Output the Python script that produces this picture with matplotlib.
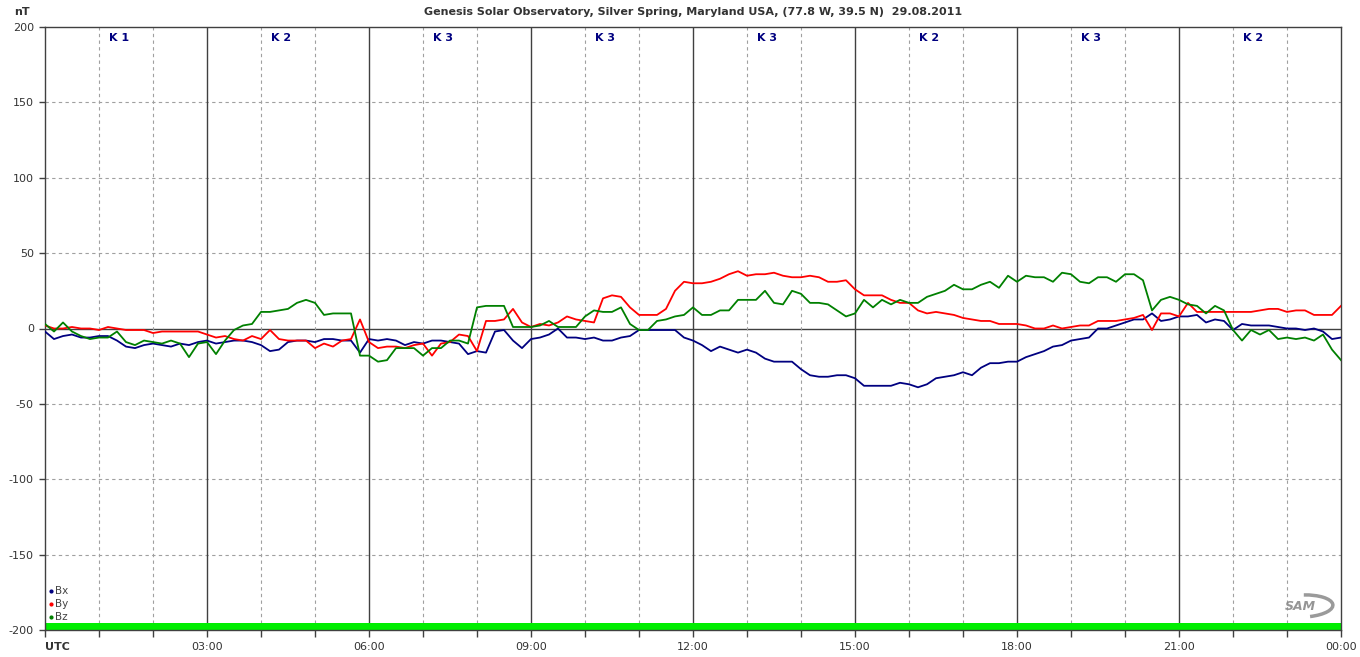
import numpy as np
import matplotlib
matplotlib.use("Agg")
import matplotlib.pyplot as plt
from matplotlib.patches import Arc

# ---- data (10-minute samples, 00:00 .. 24:00 UTC) ----
bx = [-2, -7, -5, -4, -6, -6, -5, -5, -8, -12, -13, -11, -10, -11, -12, -10, -11, -9, -8, -10, -9, -8, -8, -9, -11, -15, -14, -9, -8,
      -8, -9, -7, -7, -8, -8, -16, -7, -8, -7, -8, -11, -9, -10, -8, -8, -9, -10, -17, -15, -16, -2, -1, -8, -13, -7, -6, -4, 0,
      -6, -6, -7, -6, -8, -8, -6, -5, -1, -1, -1, -1, -1, -6, -8, -11, -15, -12, -14, -16, -14, -16, -20, -22, -22, -22, -27, -31, -32,
      -32, -31, -31, -33, -38, -38, -38, -38, -36, -37, -39, -37, -33, -32, -31, -29, -31, -26, -23, -23, -22, -22, -19, -17, -15, -12, -11, -8, -7,
      -6, 0, 0, 2, 4, 6, 6, 10, 5, 6, 8, 8, 9, 4, 6, 5, -1, 3, 2, 2, 2, 1, 0, 0, -1, 0, -2, -7, -6]
by = [2, 0, 0, 1, 0, 0, -1, 1, 0, -1, -1, -1, -3, -2, -2, -2, -2, -2, -4, -6, -5, -7, -8, -5, -7, -1, -7, -8, -8,
      -8, -13, -10, -12, -8, -7, 6, -9, -13, -12, -12, -13, -11, -10, -18, -10, -9, -4, -5, -15, 5, 5, 6, 13, 4, 1, 3, 2, 4,
      8, 6, 5, 4, 20, 22, 21, 14, 9, 9, 9, 13, 25, 31, 30, 30, 31, 33, 36, 38, 35, 36, 36, 37, 35, 34, 34, 35, 34,
      31, 31, 32, 26, 22, 22, 22, 19, 17, 17, 12, 10, 11, 10, 9, 7, 6, 5, 5, 3, 3, 3, 2, 0, 0, 2, 0, 1, 2,
      2, 5, 5, 5, 6, 7, 9, -1, 10, 10, 8, 17, 11, 11, 11, 11, 11, 11, 11, 12, 13, 13, 11, 12, 12, 9, 9, 9, 15]
bz = [3, -2, 4, -2, -5, -7, -6, -6, -2, -9, -11, -8, -9, -10, -8, -10, -19, -10, -9, -17, -8, -1, 2, 3, 11, 11, 12, 13, 17,
      19, 17, 9, 10, 10, 10, -18, -18, -22, -21, -13, -13, -13, -18, -13, -13, -8, -8, -10, 14, 15, 15, 15, 1, 1, 1, 2, 5, 1,
      1, 1, 8, 12, 11, 11, 14, 3, -1, -1, 5, 6, 8, 9, 14, 9, 9, 12, 12, 19, 19, 19, 25, 17, 16, 25, 23, 17, 17,
      16, 12, 8, 10, 19, 14, 19, 16, 19, 17, 17, 21, 23, 25, 29, 26, 26, 29, 31, 27, 35, 31, 35, 34, 34, 31, 37, 36, 31,
      30, 34, 34, 31, 36, 36, 32, 12, 19, 21, 19, 16, 15, 10, 15, 12, -1, -8, -1, -4, -1, -7, -6, -7, -6, -8, -4, -14, -21]
k_labels = ["K 1", "K 2", "K 3", "K 3", "K 3", "K 2", "K 3", "K 2"]
x_ticklabels = ["UTC", "03:00", "06:00", "09:00", "12:00", "15:00", "18:00", "21:00", "00:00"]
y_ticks = [200, 150, 100, 50, 0, -50, -100, -150, -200]
sample_step_hours = 1 / 6

t = np.arange(len(bx)) * sample_step_hours

W, H = 1360, 657
fig = plt.figure(figsize=(W / 100, H / 100), dpi=100)
fig.patch.set_facecolor("white")
ax = fig.add_axes([45 / W, (H - 630) / H, (1341 - 45) / W, 603 / H])
ax.set_xlim(0, 24)
ax.set_ylim(-200, 200)

dark = "#404040"
gridc = "#a0a0a0"
# grid
for y in y_ticks:
    if y in (200, -200):
        continue
    if y == 0:
        ax.axhline(0, color=dark, lw=1.0, zorder=1)
    else:
        ax.axhline(y, color=gridc, lw=0.8, ls=(0, (3, 3)), zorder=1)
for h in range(1, 24):
    if h % 3 == 0:
        ax.axvline(h, color=dark, lw=1.0, zorder=1)
    else:
        ax.axvline(h, color=gridc, lw=0.8, ls=(0, (3, 3)), zorder=1)

# green bar
ax.axhspan(-200, -195.3, color="#00ee00", lw=0, zorder=2)

# series
ax.plot(t, bx, color="#000080", lw=1.3, zorder=3)
ax.plot(t, by, color="#ff0000", lw=1.3, zorder=4)
ax.plot(t, bz, color="#008000", lw=1.3, zorder=5)

# spines
for s in ["left", "top", "right", "bottom"]:
    ax.spines[s].set_color(dark)
    ax.spines[s].set_linewidth(1.0)

ax.set_yticks(y_ticks)
ax.set_yticklabels([str(v) for v in y_ticks], fontsize=8, color="#333333")
ax.set_xticks(np.arange(0, 24.01, 3))
ax.set_xticklabels(x_ticklabels, fontsize=8, color="#333333")
ax.set_xticks([h for h in range(1, 24) if h % 3], minor=True)
ax.tick_params(axis="y", length=4, width=1, color=dark, pad=4)
ax.tick_params(axis="x", which="both", length=5, width=1, color=dark, pad=4)
for lbl in ax.get_xticklabels():
    if lbl.get_text() == "UTC":
        lbl.set_fontweight("bold")
        lbl.set_horizontalalignment("left")

# K labels
for i, kl in enumerate(k_labels):
    ax.text(1.37 + 3 * i, 193, kl, ha="center", va="center", fontsize=8,
            fontweight="bold", color="#000080", zorder=6)

# title & unit
fig.text(693 / W, 1 - 12 / H, "Genesis Solar Observatory, Silver Spring, Maryland USA, (77.8 W, 39.5 N)  29.08.2011",
         ha="center", va="center", fontsize=8, fontweight="bold", color="#333333")
fig.text(22 / W, 1 - 12 / H, "nT", ha="center", va="center", fontsize=8, fontweight="bold", color="#333333")

# legend
for i, (name, c) in enumerate(zip(["Bx", "By", "Bz"], ["#000080", "#ff0000", "#008000"])):
    yy = 1 - (591 + 13 * i) / H
    fig.lines.append(plt.Line2D([51 / W], [yy], transform=fig.transFigure, marker="o",
                                markersize=2, color=c, lw=0))
    fig.text(55 / W, yy, name, ha="left", va="center", fontsize=7.5, color="#444444")

# SAM logo
fig.text(1300 / W, 1 - 607 / H, "SAM", ha="center", va="center", fontsize=9, style="italic",
         fontweight="bold", color="#8a8a8a", alpha=0.9)
logo = Arc((1303 / W, 1 - 606 / H), 60 / W, 22 / H, angle=8, theta1=280, theta2=80,
           transform=fig.transFigure, color="#9a9a9a", lw=2.5)
fig.patches.append(logo)

fig.savefig("out.png", dpi=100)
